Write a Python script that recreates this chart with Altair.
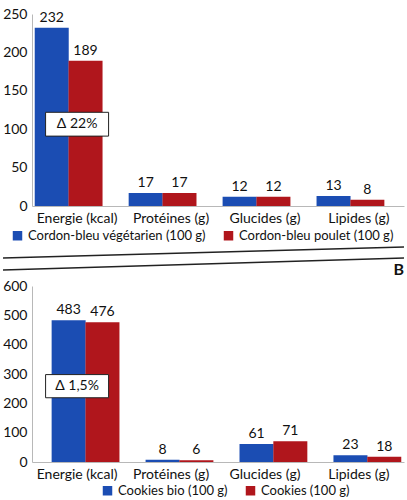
import altair as alt
import pandas as pd

# Nutrient categories shared by both panels
categories = ["Energie (kcal)", "Protéines (g)", "Glucides (g)", "Lipides (g)"]

# Panel A: cordon-bleu comparison (per 100 g)
a_series = ["Cordon-bleu végétarien (100 g)", "Cordon-bleu poulet (100 g)"]
a_veg = [232, 17, 12, 13]
a_poulet = [189, 17, 12, 8]
a_delta = "Δ 22%"

# Panel B: cookies comparison (per 100 g)
b_series = ["Cookies bio (100 g)", "Cookies (100 g)"]
b_bio = [483, 8, 61, 23]
b_std = [476, 6, 71, 18]
b_delta = "Δ 1,5%"

a_ticks = [0, 50, 100, 150, 200, 250]
b_ticks = [0, 100, 200, 300, 400, 500, 600]

BLUE = "#1b4db3"
RED = "#b0161c"
FONT = "Lato"
INK = "#111111"
PLOT_W = 372
BAR_W = 34


def make_frame(series, first, second):
    rows = []
    for cat, v in zip(categories, first):
        rows.append({"cat": cat, "serie": series[0], "val": v})
    for cat, v in zip(categories, second):
        rows.append({"cat": cat, "serie": series[1], "val": v})
    return pd.DataFrame(rows)


def panel(series, first, second, ticks, delta, box_lo, box_hi, h,
          legend_x, legend_y, extra=None):
    df = make_frame(series, first, second)
    yscale = alt.Scale(domain=[ticks[0], ticks[-1]], nice=False, zero=True)
    xscale = alt.Scale(paddingInner=0.28, paddingOuter=0.12)
    oscale = alt.Scale(paddingInner=0, paddingOuter=0)

    xaxis = alt.Axis(labelAngle=0, labelFontSize=14, labelColor=INK,
                     labelFont=FONT, ticks=False, labelPadding=5,
                     domainColor="#b8b8b8", labelOverlap=False)
    yaxis = alt.Axis(values=ticks, grid=False, ticks=False,
                     labelFontSize=14, labelColor=INK, labelFont=FONT,
                     labelPadding=5, domainColor="#b8b8b8", labelOverlap=False)

    def X():
        return alt.X("cat:N", sort=categories, title=None, scale=xscale, axis=xaxis)

    def Y(field):
        return alt.Y(field, title=None, scale=yscale, axis=yaxis)

    def O():
        return alt.XOffset("serie:N", sort=series, scale=oscale)

    color = alt.Color("serie:N", sort=series, title=None,
                      scale=alt.Scale(domain=series, range=[BLUE, RED]),
                      legend=alt.Legend(orient="none", legendX=legend_x,
                                        legendY=legend_y, direction="horizontal",
                                        symbolType="square", symbolSize=90,
                                        labelFontSize=13, labelFont=FONT,
                                        labelColor=INK, columnPadding=16,
                                        labelLimit=0, padding=0))

    bars = alt.Chart(df).mark_bar(size=BAR_W).encode(
        x=X(), xOffset=O(), y=Y("val:Q"), color=color)
    labels = alt.Chart(df).mark_text(dy=-10, fontSize=14, font=FONT, color=INK).encode(
        x=X(), xOffset=O(), y=Y("val:Q"), text="val:Q")

    # Boxed percentage difference drawn over the energy bars
    box_df = pd.DataFrame({"cat": [categories[0]], "lo": [box_lo], "hi": [box_hi],
                           "label": [delta]})
    box = alt.Chart(box_df).mark_bar(width=63, fill="white", stroke="#222",
                                     strokeWidth=1).encode(
        x=X(), y=Y("lo:Q"), y2="hi:Q")
    box_text = alt.Chart(box_df).mark_text(fontSize=14, font=FONT, color=INK).encode(
        x=X(), y=Y("mid:Q"), text="label:N"
    ).transform_calculate(mid="(datum.lo + datum.hi) / 2")

    layers = [bars, labels, box, box_text]
    if extra is not None:
        layers += extra
    return alt.layer(*layers).properties(width=PLOT_W, height=h)


# Page borders between the two figures and the panel letter of figure B
one = pd.DataFrame({"k": [0]})
border_a = alt.Chart(one).mark_rule(color="#222", strokeWidth=1.4).encode(
    x=alt.value(-29), x2=alt.value(PLOT_W), y=alt.value(244), y2=alt.value(233))
border_b = alt.Chart(one).mark_rule(color="#222", strokeWidth=1.4).encode(
    x=alt.value(-29), x2=alt.value(PLOT_W), y=alt.value(256), y2=alt.value(244))
letter = alt.Chart(pd.DataFrame({"t": ["B"]})).mark_text(
    fontSize=16, fontWeight="bold", font=FONT, color=INK, align="right").encode(
    x=alt.value(PLOT_W), y=alt.value(256), text="t:N")

top = panel(a_series, a_veg, a_poulet, a_ticks, a_delta, 91, 122, 192,
            legend_x=-21, legend_y=215, extra=[border_a, border_b, letter])
bottom = panel(b_series, b_bio, b_std, b_ticks, b_delta, 219, 298, 176,
               legend_x=69, legend_y=198)

chart = alt.vconcat(top, bottom, spacing=1).resolve_scale(
    color="independent", y="independent", x="independent").resolve_legend(
    color="independent").properties(
    padding={"left": 2, "top": 7, "right": 0, "bottom": 0},
    background="white",
).configure_view(stroke=None)

chart.save("out.html", embed_options={"renderer": "svg", "actions": False})
